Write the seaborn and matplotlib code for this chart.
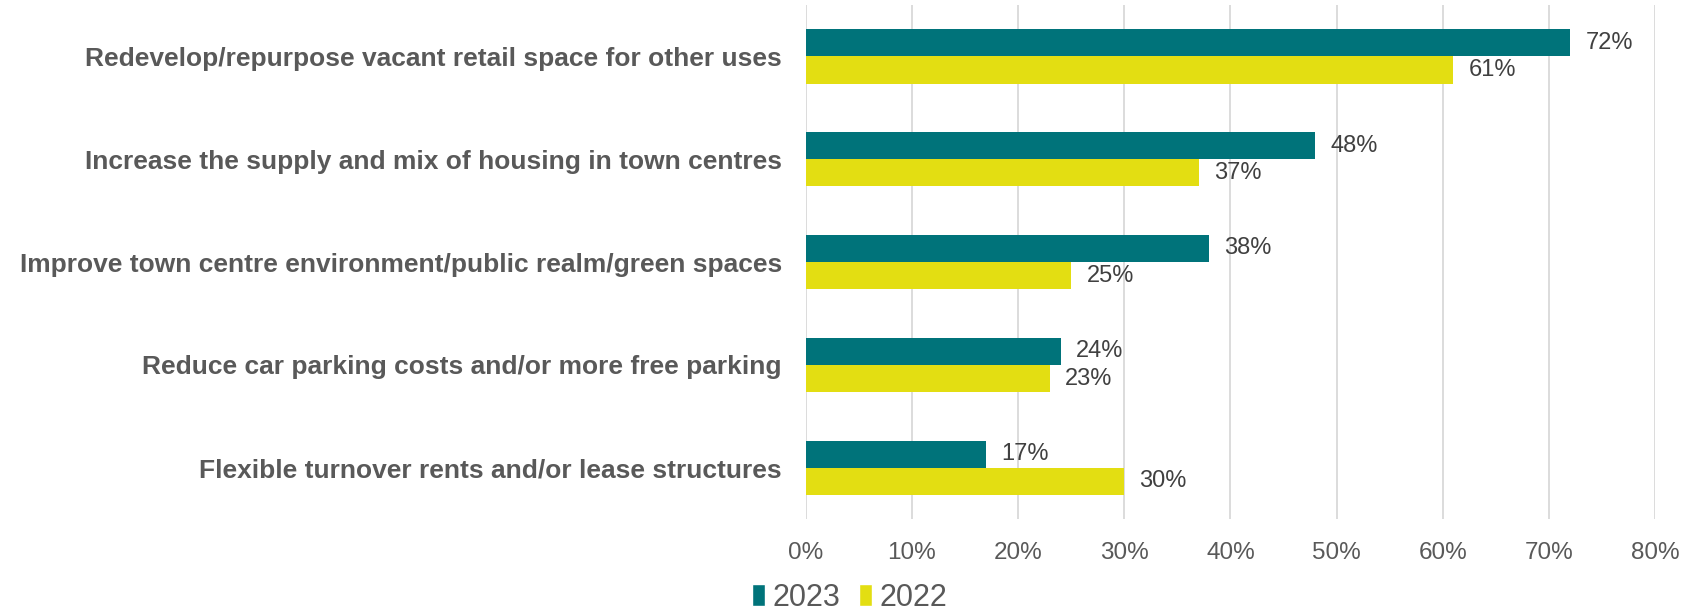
import matplotlib
matplotlib.use("Agg")
import matplotlib.pyplot as plt
from matplotlib.patches import Patch
from matplotlib.ticker import MultipleLocator, PercentFormatter
import seaborn as sns
import pandas as pd

categories = [
    "Redevelop/repurpose vacant retail space for other uses",
    "Increase the supply and mix of housing in town centres",
    "Improve town centre environment/public realm/green spaces",
    "Reduce car parking costs and/or more free parking",
    "Flexible turnover rents and/or lease structures",
]
values_2023 = [72, 48, 38, 24, 17]
values_2022 = [61, 37, 25, 23, 30]
years = ["2023", "2022"]
colors = {"2023": "#00737A", "2022": "#E3DE12"}

df = pd.DataFrame({
    "measure": categories * 2,
    "year": ["2023"] * len(categories) + ["2022"] * len(categories),
    "share": values_2023 + values_2022,
})

sns.set_theme(style="white")
plt.rcParams["font.family"] = ["Liberation Sans", "DejaVu Sans"]

fig = plt.figure(figsize=(16.96, 6.16), dpi=100)
ax = fig.add_axes([0.475, 0.157, 0.501, 0.835])

sns.barplot(data=df, y="measure", x="share", hue="year", hue_order=years,
            order=categories, palette=colors, width=0.53, orient="h",
            saturation=1, linewidth=0, ax=ax, legend=False)

for container in ax.containers:
    ax.bar_label(container, labels=[f"{v:.0f}%" for v in container.datavalues],
                 padding=11, fontsize=17, color="#404040")

ax.set_xlim(0, 80)
ax.xaxis.set_major_locator(MultipleLocator(10))
ax.xaxis.set_major_formatter(PercentFormatter(decimals=0))
ax.grid(axis="x", color="#D9D9D9", linewidth=1.3)
ax.set_axisbelow(True)
for s in ax.spines.values():
    s.set_visible(False)
ax.set_xlabel("")
ax.set_ylabel("")
ax.tick_params(axis="x", labelsize=17.5, labelcolor="#595959", pad=16, length=0)
ax.tick_params(axis="y", labelsize=19, labelcolor="#595959", pad=17, length=0)
for lbl in ax.get_yticklabels():
    lbl.set_fontweight("bold")

handles = [Patch(facecolor=colors[y], label=y) for y in years]
fig.legend(handles=handles, loc="center", bbox_to_anchor=(0.501, 0.03),
           ncol=2, frameon=False, fontsize=22, handlelength=0.42, handleheight=0.7,
           handletextpad=0.25, columnspacing=0.6, labelcolor="#595959",
           borderpad=0.1)

fig.savefig("out.png", dpi=100, facecolor="white")
